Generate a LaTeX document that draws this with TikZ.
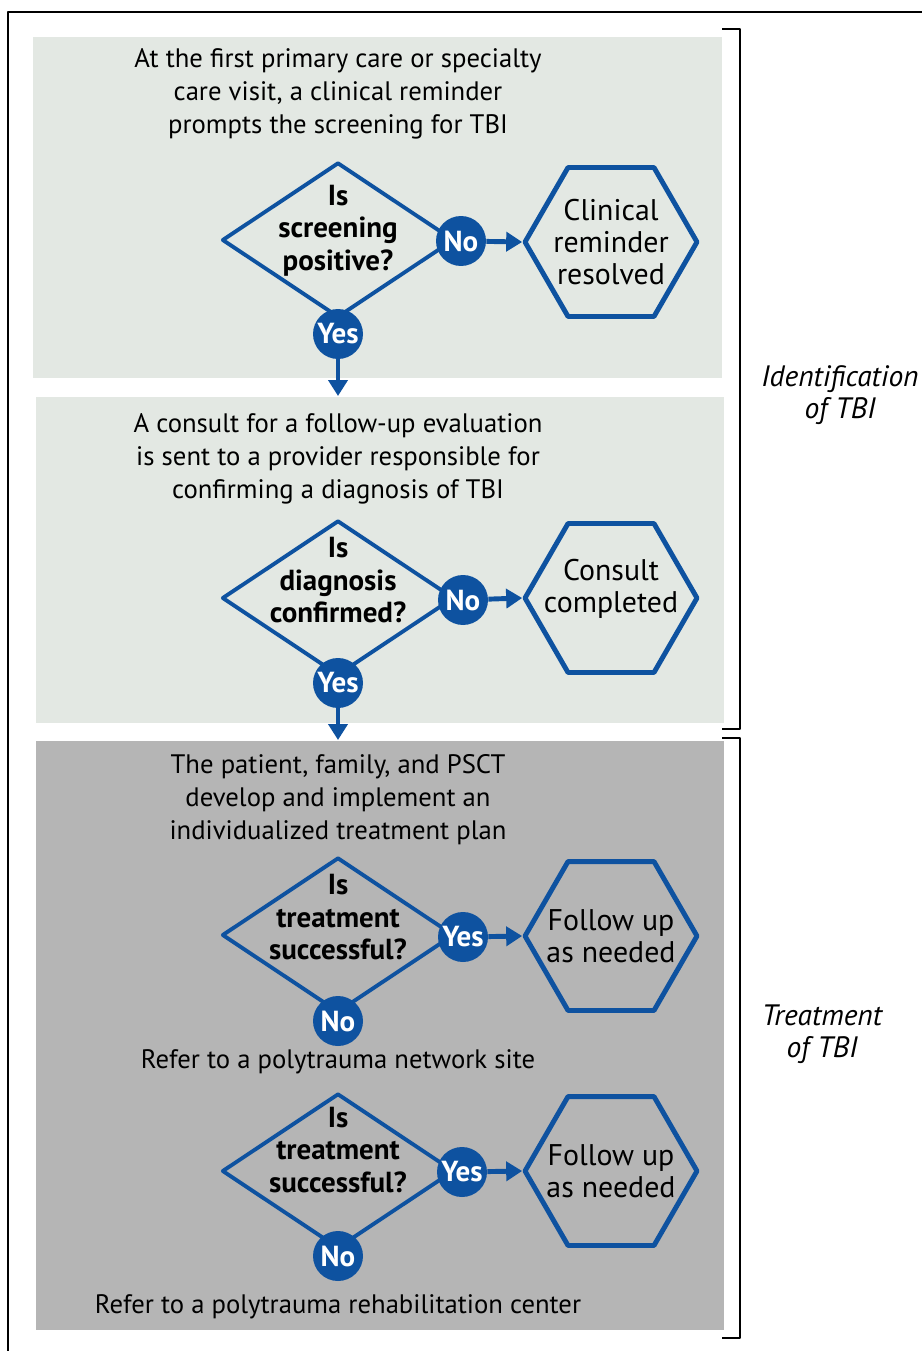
\documentclass[tikz,border=0pt]{standalone}
\usepackage{fontspec}
\setmainfont{PT Sans}
\usetikzlibrary{shapes.geometric,arrows.meta,positioning}
\definecolor{tbiblue}{RGB}{14,82,160}
\definecolor{panellight}{RGB}{227,232,227}
\definecolor{paneldark}{RGB}{181,181,181}
\begin{document}
\begin{tikzpicture}[x=0.02cm,y=-0.02cm,line join=round,
	>={Triangle[length=0.32cm,width=0.38cm]},
	question/.style={diamond,draw=tbiblue,line width=2.2pt,minimum width=4.64cm,minimum height=3.1cm,inner sep=0pt},
	qtext/.style={font=\bfseries\fontsize{16.5}{18.5}\selectfont,align=center},
	outcome/.style={regular polygon,regular polygon sides=6,draw=tbiblue,line width=2.8pt,minimum size=3.44cm,inner sep=0pt},
	otext/.style={font=\fontsize{17}{18.3}\selectfont,align=center},
	answer/.style={circle,fill=tbiblue,text=white,font=\bfseries\fontsize{16.5}{16.5}\selectfont,minimum size=1cm,inner sep=0pt},
	flow/.style={->,draw=tbiblue,line width=2.8pt},
	bodytext/.style={font=\fontsize{15.2}{18.8}\selectfont,align=center},
	side/.style={font=\itshape\fontsize{16.8}{18}\selectfont,align=center}]
	\useasboundingbox (0,0) rectangle (922,1351);
	% frame and panels
	\draw[line width=1.7pt] (922,12)--(8,12)--(8,1351);
	\fill[panellight] (33,37) rectangle (722,378);
	\fill[panellight] (36,397) rectangle (724,723);
	\fill[paneldark] (36,741) rectangle (724,1330);
	\draw[line width=1.1pt] (722,29)--(740,29)--(740,729)--(722,729);
	\draw[line width=1.1pt] (722,738)--(740,738)--(740,1338)--(722,1338);
	\node[side] (idlabel) at (840,395) {Identification\\of TBI};
	\node[side] (trlabel) at (822,1034) {Treatment\\of TBI};
	
	% identification
	\node[bodytext] (t1) at (338,94) {At the first primary care or specialty\\care visit, a clinical reminder\\prompts the screening for TBI};
	\node[question,label={[qtext,yshift=5.5pt]center:Is\\screening\\positive?}] (q1) at (338,240) {};
	\node[outcome,label={[otext]center:Clinical\\reminder\\resolved}] (h1) at (611,242) {};
	\node[answer] (no1) at (461,241) {No};
	\node[answer] (yes1) at (338,334) {Yes};
	\coordinate (in2) at (338,396);
	\draw[flow] (no1)--(h1.west);
	\draw[flow] (yes1)--(in2);
	
	\node[bodytext] (t2) at (338,459) {A consult for a follow-up evaluation\\is sent to a provider responsible for\\confirming a diagnosis of TBI};
	\node[question,label={[qtext,yshift=10pt]center:Is\\diagnosis\\confirmed?}] (q2) at (338,598) {};
	\node[outcome,label={[otext,yshift=5pt]center:Consult\\completed}] (h2) at (611,598) {};
	\node[answer] (no2) at (463,600) {No};
	\node[answer] (yes2) at (338,683) {Yes};
	\coordinate (in3) at (338,740);
	\draw[flow] (no2)--(h2.west);
	\draw[flow] (yes2)--(in3);
	
	% treatment
	\node[bodytext] (t3) at (338,800) {The patient, family, and PSCT\\develop and implement an\\individualized treatment plan};
	\node[question,label={[qtext,yshift=10pt]center:Is\\treatment\\successful?}] (q3) at (338,935) {};
	\node[outcome,label={[otext]center:Follow up\\as needed}] (h3) at (611,936) {};
	\node[answer] (yes3) at (463,937) {Yes};
	\node[answer] (no3) at (338,1021) {No};
	\draw[flow] (yes3)--(h3.west);
	\node[bodytext] (r1) at (338,1062) {Refer to a polytrauma network site};
	
	\node[question,label={[qtext,yshift=12pt]center:Is\\treatment\\successful?}] (q4) at (338,1171) {};
	\node[outcome,label={[otext]center:Follow up\\as needed}] (h4) at (611,1171) {};
	\node[answer] (yes4) at (462,1172) {Yes};
	\node[answer] (no4) at (338,1256) {No};
	\draw[flow] (yes4)--(h4.west);
	\node[bodytext] (r2) at (338,1307) {Refer to a polytrauma rehabilitation center};
\end{tikzpicture}
\end{document}
